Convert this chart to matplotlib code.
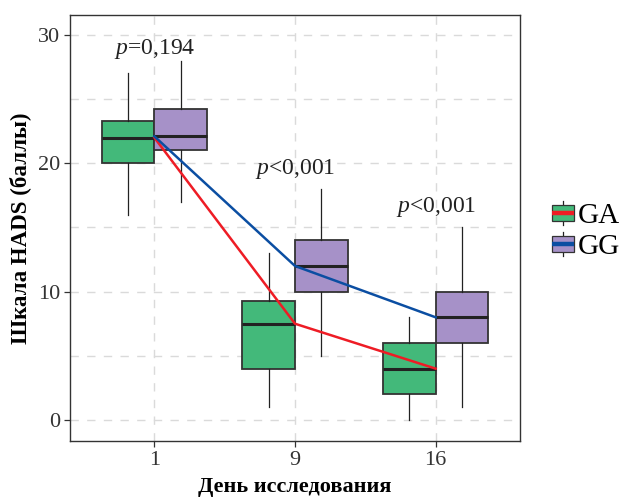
import matplotlib
matplotlib.use("Agg")
import matplotlib.pyplot as plt
from matplotlib.patches import Rectangle
from matplotlib.lines import Line2D
from matplotlib.legend_handler import HandlerBase

plt.rcParams['font.family'] = ['Liberation Serif', 'DejaVu Serif']
plt.rcParams['mathtext.fontset'] = 'custom'
plt.rcParams['mathtext.it'] = 'Liberation Serif:italic'
plt.rcParams['mathtext.rm'] = 'Liberation Serif'

days = ["1", "9", "16"]
groups = ["GA", "GG"]

# five-number summaries
ga_whislo = [16, 1, 0]
ga_q1 = [20, 4, 2]
ga_med = [22, 7.5, 4]
ga_q3 = [23.3, 9.3, 6]
ga_whishi = [27, 13, 8]

gg_whislo = [17, 5, 1]
gg_q1 = [21, 10, 6]
gg_med = [22.1, 12, 8]
gg_q3 = [24.2, 14, 10]
gg_whishi = [28, 18, 15]

p_text = ["=0,194", "<0,001", "<0,001"]
p_y = [28.5, 19.2, 16.2]

fill_ga = "#43B97A"
fill_gg = "#A691C8"
line_ga = "#EE1C25"
line_gg = "#0B4EA2"
edge = "#333333"

fig = plt.figure(figsize=(6.23, 4.99), dpi=100)
ax = fig.add_axes([0.1124, 0.1162, 0.7223, 0.8538])

pos = [1, 2, 3]
off = 0.1875
bw = 0.375


def stats(lo, q1, med, q3, hi):
    return [dict(whislo=lo[i], q1=q1[i], med=med[i], q3=q3[i], whishi=hi[i], fliers=[])
            for i in range(len(lo))]


def draw(st, positions, fill):
    ax.bxp(st, positions=positions, widths=bw, patch_artist=True, showcaps=False,
           boxprops=dict(facecolor=fill, edgecolor=edge, linewidth=1.3),
           whiskerprops=dict(color="#222222", linewidth=0.9),
           medianprops=dict(color="#222222", linewidth=2.2, solid_capstyle='butt'),
           zorder=3)


draw(stats(ga_whislo, ga_q1, ga_med, ga_q3, ga_whishi), [p - off for p in pos], fill_ga)
draw(stats(gg_whislo, gg_q1, gg_med, gg_q3, gg_whishi), [p + off for p in pos], fill_gg)

ax.plot(pos, ga_med, color=line_ga, lw=1.8, zorder=4)
ax.plot(pos, gg_med, color=line_gg, lw=1.8, zorder=4)

for i in range(3):
    ax.text(pos[i], p_y[i], "$p$" + p_text[i], ha='center', va='baseline',
            fontsize=17, color="#222222", zorder=5)

ax.set_xlim(0.4, 3.6)
ax.set_ylim(-1.64, 31.56)
ax.set_xticks(pos)
ax.set_xticklabels(days)
ax.set_yticks([0, 10, 20, 30])
ax.set_yticks([5, 15, 25], minor=True)
ax.tick_params(axis='both', which='major', labelsize=16, length=4, width=0.9,
               color="#333333", labelcolor="#333333", pad=3)
ax.tick_params(axis='y', which='minor', length=0)
ax.grid(True, which='both', axis='y', color="#DADADA", lw=1, linestyle=(0, (6, 6)), zorder=0)
ax.grid(True, which='major', axis='x', color="#DADADA", lw=1, linestyle=(0, (6, 6)), zorder=0)
ax.set_axisbelow(True)
for s in ax.spines.values():
    s.set_color("#333333")
    s.set_linewidth(1.0)

ax.set_xlabel("День исследования", fontsize=16, fontweight='bold', labelpad=5.5)
ax.set_ylabel("Шкала HADS (баллы)", fontsize=16.5, fontweight='bold', labelpad=5)


class BoxKey(HandlerBase):
    def __init__(self, fill, line):
        super().__init__()
        self.fill = fill
        self.line = line

    def create_artists(self, legend, orig_handle, xdescent, ydescent, width, height, fontsize, trans):
        cx = width / 2 - xdescent
        cy = height / 2 - ydescent
        bh = 16 * 0.72
        bwid = width
        rect = Rectangle((cx - bwid / 2, cy - bh / 2), bwid, bh, facecolor=self.fill,
                         edgecolor=edge, lw=0.9, transform=trans)
        w1 = Line2D([cx, cx], [cy + bh / 2, cy + bh / 2 + 3], color="#222222", lw=0.9, transform=trans)
        w2 = Line2D([cx, cx], [cy - bh / 2, cy - bh / 2 - 3], color="#222222", lw=0.9, transform=trans)
        med = Line2D([cx - bwid / 2, cx + bwid / 2], [cy, cy], color=self.line, lw=3.2,
                     solid_capstyle='butt', transform=trans)
        return [w1, w2, rect, med]


h1 = Line2D([], [])
h2 = Line2D([], [])
fig.legend([h1, h2], groups, handler_map={h1: BoxKey(fill_ga, line_ga), h2: BoxKey(fill_gg, line_gg)},
           loc='center left', bbox_to_anchor=(0.886, 0.537), frameon=False, fontsize=21,
           handlelength=0.76, handleheight=0.8, handletextpad=0.12, labelspacing=0.12,
           borderpad=0, borderaxespad=0)

fig.savefig("out.png", dpi=100)
